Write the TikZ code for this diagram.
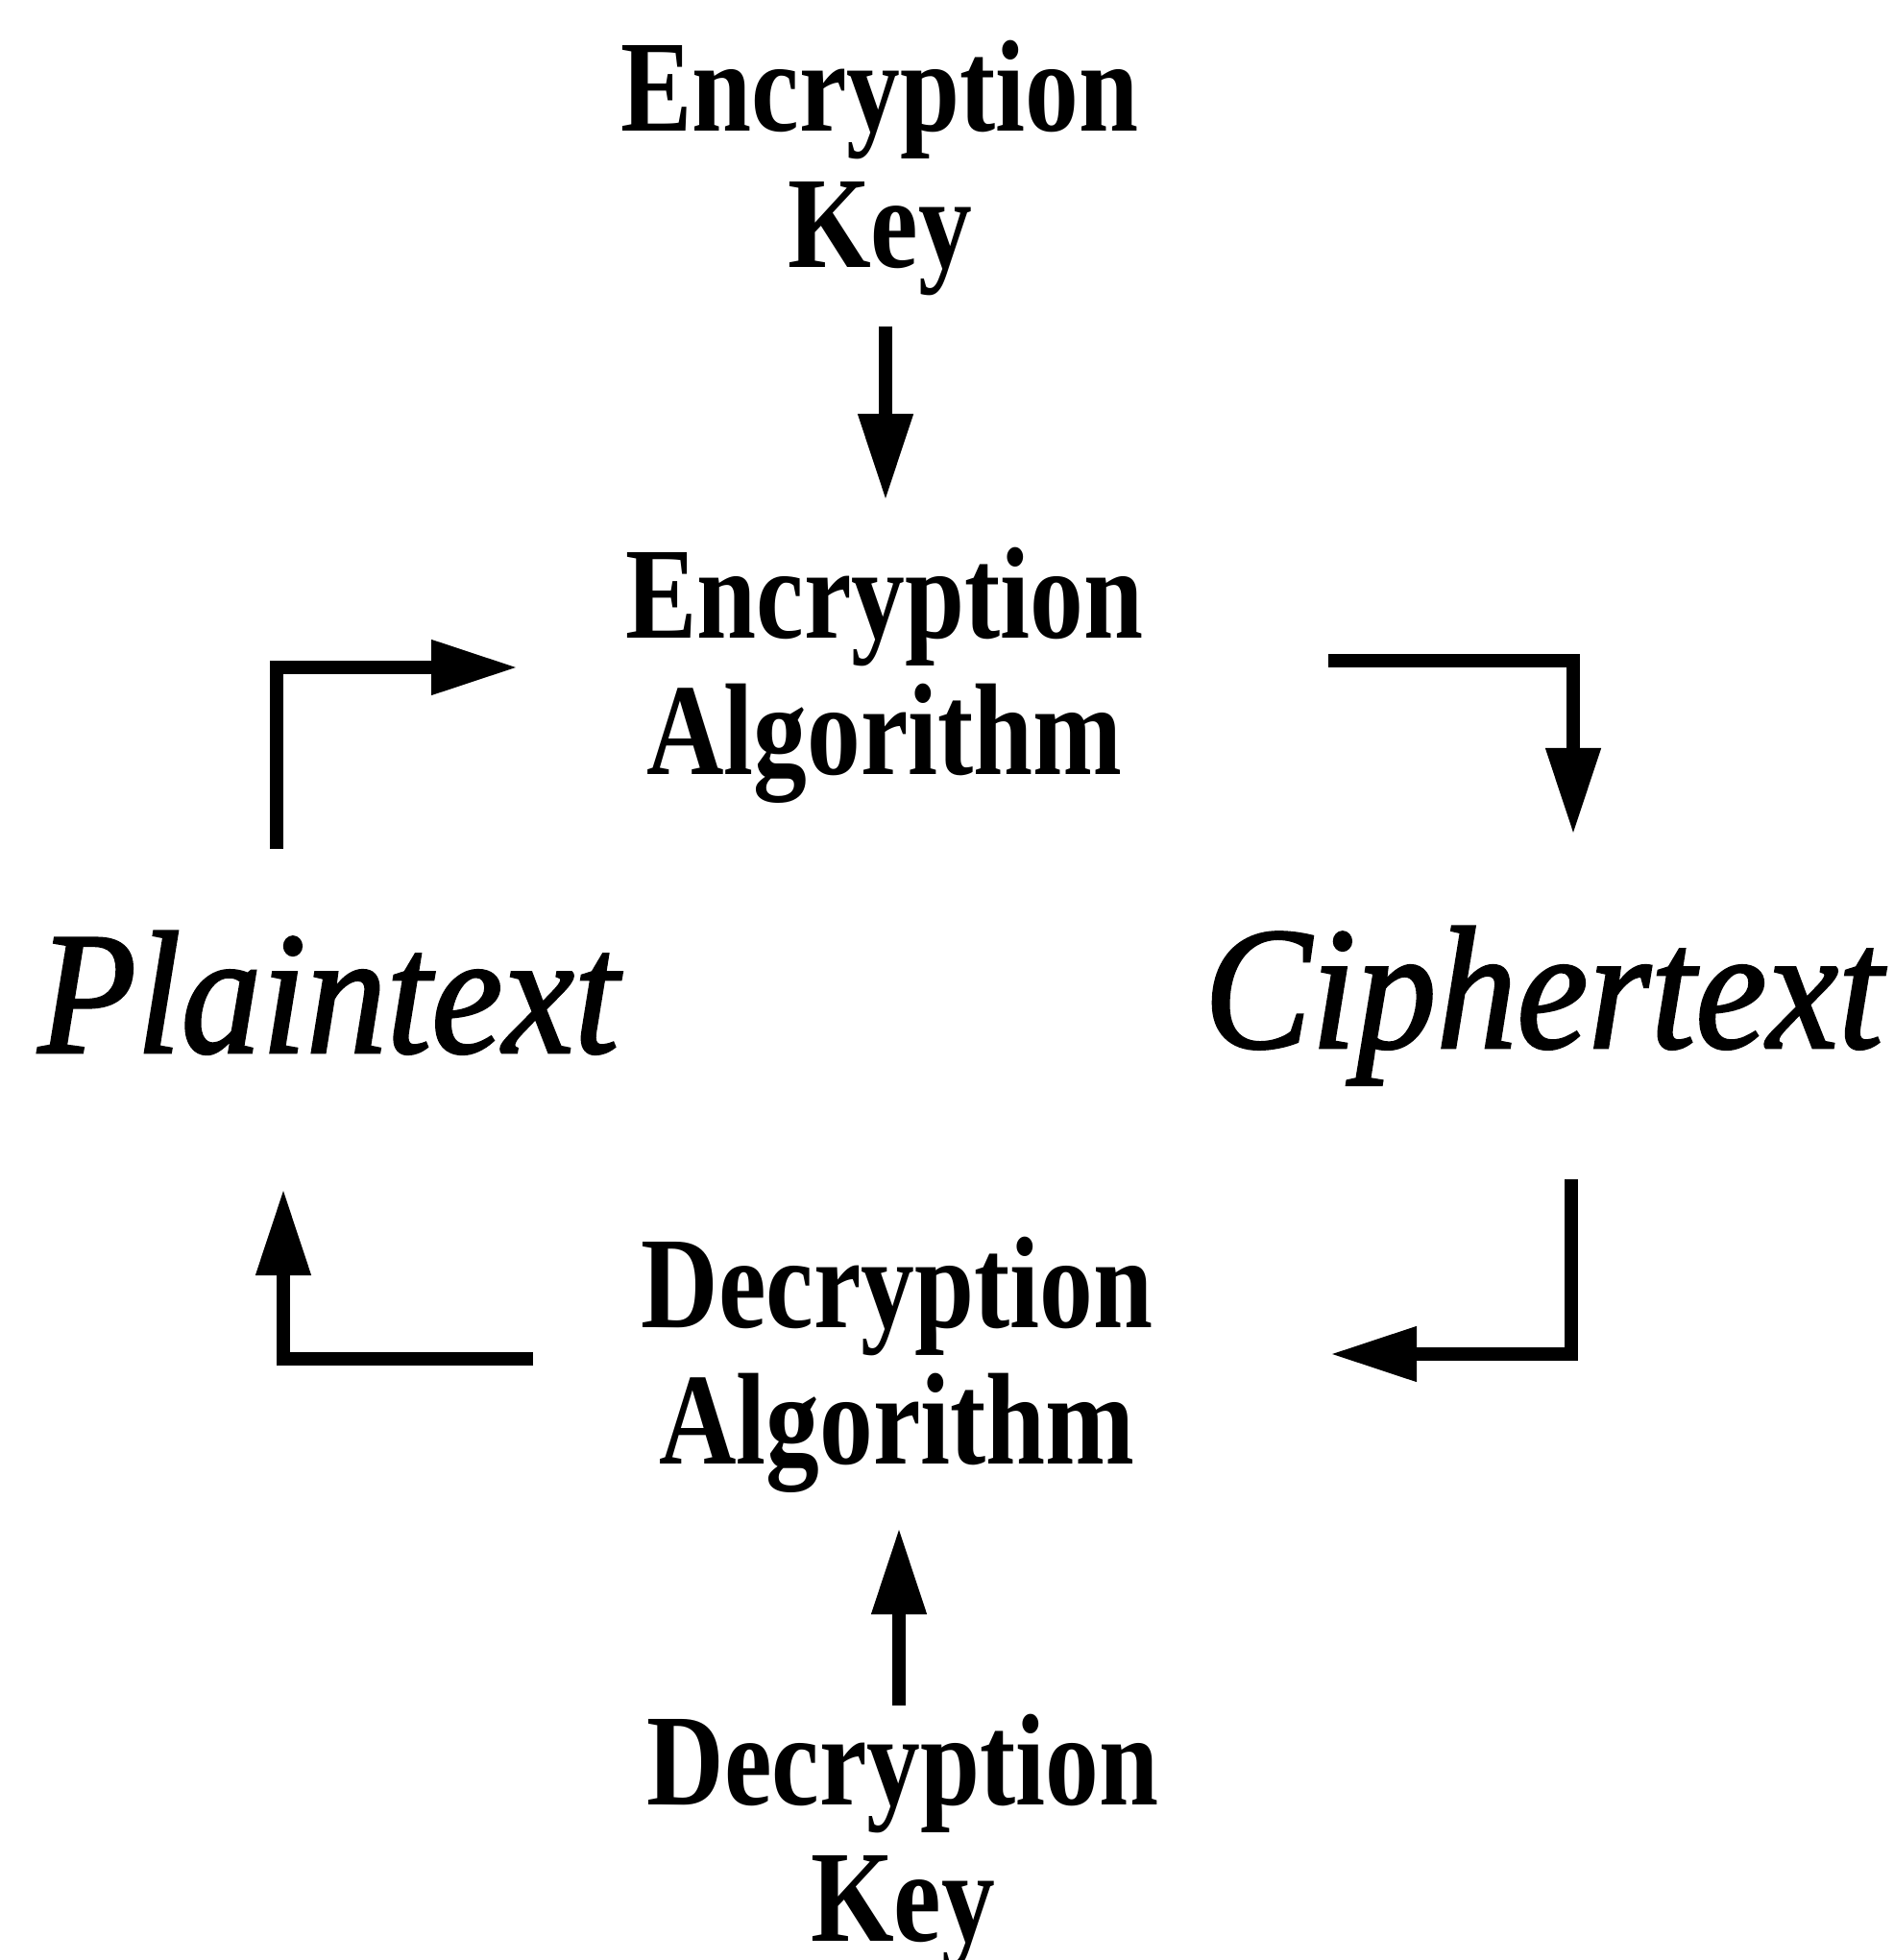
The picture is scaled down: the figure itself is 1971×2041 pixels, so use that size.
\documentclass[tikz,border=0pt]{standalone}
\usepackage{fontspec}
\setmainfont{Liberation Serif}
\newfontfamily\termfont{Liberation Serif}[ItalicFeatures={FakeBold=1.5}]
\usepackage{graphicx}
\usetikzlibrary{arrows.meta}

% two centred lines, baseline of the node = baseline of the first line
\newcommand\stacklabel[2]{\scalebox{0.82}[1]{\vtop{\baselineskip=35.5pt\halign{\hfil##\hfil\cr #1\cr #2\cr}}}}

\begin{document}
\begin{tikzpicture}[x=0.25pt,y=-0.25pt,
  lbl/.style={inner sep=0pt, anchor=base, font=\fontsize{34pt}{35.5pt}\selectfont\bfseries},
  term/.style={inner sep=0pt, anchor=base, font=\termfont\fontsize{45.5pt}{46pt}\selectfont\itshape},
  arr/.style={line width=3.5pt, line join=miter, -{Triangle[length=22.5pt,width=13.5pt]}}]
\useasboundingbox (0,0) rectangle (1971,2041);

% labels
\node[lbl] (enckey) at (916,137) {\stacklabel{Encryption}{Key}};
\node[lbl] (encalg) at (921,665) {\stacklabel{Encryption}{Algorithm}};
\node[lbl] (decalg) at (934,1382) {\stacklabel{Decryption}{Algorithm}};
\node[lbl] (deckey) at (940,1879) {\stacklabel{Decryption}{Key}};
\node[term] (plain) at (342,1096) {\scalebox{0.92}[1]{Plaintext}};
\node[term] (cipher) at (1607,1091) {\scalebox{0.92}[1]{Ciphertext}};

% connector end points
\coordinate (enckey-out) at (922,340);
\coordinate (encalg-in)  at (922,521);
\coordinate (plain-out)  at (288,884);
\coordinate (encalg-lin) at (539,695);
\coordinate (encalg-out) at (1383,688);
\coordinate (cipher-in)  at (1638,869);
\coordinate (cipher-out) at (1636,1228);
\coordinate (decalg-rin) at (1385,1410);
\coordinate (decalg-out) at (555,1415);
\coordinate (plain-in)   at (295,1238);
\coordinate (deckey-out) at (936,1776);
\coordinate (decalg-in)  at (936,1591);

% connectors
\draw[arr] (enckey-out) -- (encalg-in);
\draw[arr] (plain-out) |- (encalg-lin);
\draw[arr] (encalg-out) -| (cipher-in);
\draw[arr] (cipher-out) |- (decalg-rin);
\draw[arr] (decalg-out) -| (plain-in);
\draw[arr] (deckey-out) -- (decalg-in);
\end{tikzpicture}
\end{document}
